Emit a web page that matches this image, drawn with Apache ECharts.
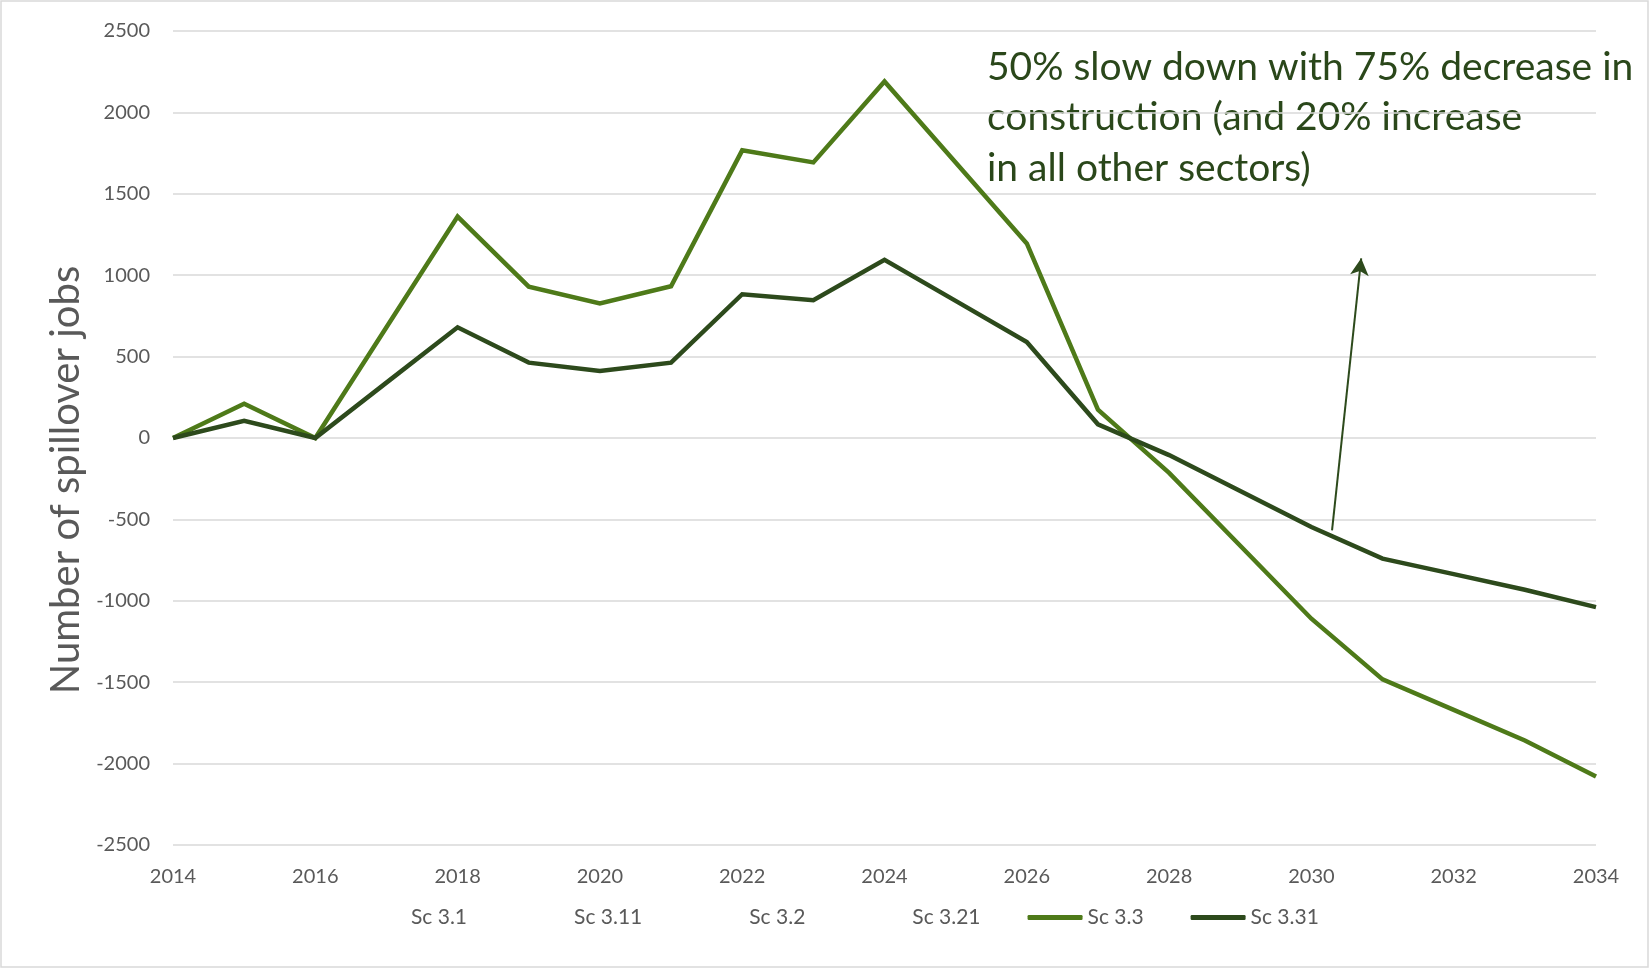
<!DOCTYPE html>
<html>
<head>
<meta charset="utf-8">
<script src="https://cdn.jsdelivr.net/npm/echarts@6/dist/echarts.min.js"></script>
<style>
  html, body { margin: 0; padding: 0; background: #ffffff; }
  #chart { width: 1650px; height: 969px; }
</style>
</head>
<body>
<div id="chart"></div>
<script>
// Years on the horizontal axis
const years = [2014, 2015, 2016, 2017, 2018, 2019, 2020, 2021, 2022, 2023, 2024,
               2025, 2026, 2027, 2028, 2029, 2030, 2031, 2032, 2033, 2034];

// Spillover jobs per scenario
const sc33  = [0, 210, 0, 680, 1360, 930, 826, 932, 1767, 1693, 2190,
               1692, 1195, 174, -214, -662, -1110, -1483, -1670, -1858, -2079];
const sc331 = [0, 105, 0, 340, 680, 463, 412, 463, 883, 846, 1095,
               842, 590, 84, -105, -326, -547, -741, -836, -932, -1039];

// Legend entries (the first four scenarios carry no line in this view)
const legendNames = ['Sc 3.1', 'Sc 3.11', 'Sc 3.2', 'Sc 3.21', 'Sc 3.3', 'Sc 3.31'];

// Axis ranges
const xRange = [2014, 2034, 2];
const yRange = [-2500, 2500, 500];
const yTitle = 'Number of spillover jobs';

// Annotation: arrow from the Sc 3.31 curve up towards the note
const arrowTail = [2030.29, -567];
const arrowHead = [2030.70, 1104];
const noteLines = [
  '50% slow down with 75% decrease in',
  'construction (and 20% increase',
  'in all other sectors)'
];

const LIGHT = '#4E7A19';
const DARK = '#2D4A1C';
const NOTE = '#2A471A';
const GREY = '#595959';
const FONT = 'Lato';

const pairs = (vals) => years.map((y, i) => [y, vals[i]]);

const hidden = legendNames.slice(0, 4).map(name => ({
  name, type: 'line', data: [], symbol: 'none',
  itemStyle: { color: 'rgba(0,0,0,0)' },
  lineStyle: { color: 'rgba(0,0,0,0)' }
}));

const chart = echarts.init(document.getElementById('chart'), null, { renderer: 'canvas' });

chart.setOption({
  animation: false,
  backgroundColor: '#ffffff',
  textStyle: { fontFamily: FONT },
  grid: { left: 173, right: 54, top: 31, bottom: 124, containLabel: false },
  xAxis: {
    type: 'value',
    min: xRange[0], max: xRange[1], interval: xRange[2],
    axisLine: { show: false },
    axisTick: { show: false },
    splitLine: { show: false },
    axisLabel: {
      color: GREY, fontSize: 20, fontFamily: FONT, margin: 22,
      formatter: v => String(v)
    }
  },
  yAxis: {
    type: 'value',
    min: yRange[0], max: yRange[1], interval: yRange[2],
    axisLine: { show: false },
    axisTick: { show: false },
    axisLabel: {
      color: GREY, fontSize: 20, fontFamily: FONT, margin: 23,
      formatter: v => String(v)
    },
    splitLine: { lineStyle: { color: '#D9D9D9', width: 1.5 } }
  },
  legend: {
    data: legendNames,
    left: 346,
    top: 902,
    itemWidth: 55,
    itemHeight: 5,
    itemGap: 47,
    icon: 'roundRect',
    selectedMode: false,
    textStyle: { color: GREY, fontSize: 21, fontFamily: FONT }
  },
  series: [
    ...hidden,
    {
      name: 'Sc 3.3', type: 'line', data: pairs(sc33),
      symbol: 'none', color: LIGHT,
      lineStyle: { color: LIGHT, width: 4.5, join: 'miter' },
      z: 3
    },
    {
      name: 'Sc 3.31', type: 'line', data: pairs(sc331),
      symbol: 'none', color: DARK,
      lineStyle: { color: DARK, width: 4.5, join: 'miter' },
      z: 4,
      markLine: {
        silent: true,
        symbol: ['none', 'arrow'],
        symbolSize: [14, 17],
        label: { show: false },
        lineStyle: { color: DARK, width: 2, type: 'solid' },
        data: [[{ coord: arrowTail }, { coord: arrowHead }]]
      }
    }
  ],
  graphic: [
    {
      type: 'rect',
      shape: { x: 1, y: 1, width: 1647, height: 966 },
      style: { fill: 'none', stroke: '#D9D9D9', lineWidth: 1.5 },
      silent: true, z: -1
    },
    {
      // vertical axis title
      type: 'text',
      x: 66, y: 480,
      rotation: Math.PI / 2,
      style: {
        text: yTitle,
        fill: GREY,
        font: '40px ' + FONT,
        align: 'center',
        verticalAlign: 'middle'
      }
    },
    {
      type: 'text',
      left: 987, top: 42,
      style: {
        text: noteLines.join('\n'),
        fill: NOTE,
        font: '39px ' + FONT,
        lineHeight: 50.5
      }
    }
  ]
});
</script>
</body>
</html>
